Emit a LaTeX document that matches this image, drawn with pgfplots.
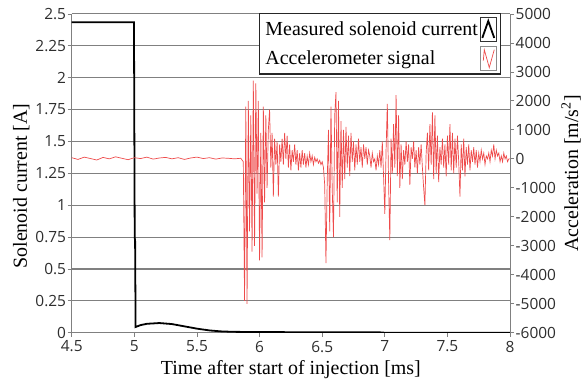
\documentclass[border=0pt]{standalone}
\usepackage{pgfplots}
\pgfplotsset{compat=1.18}
\usepackage{fontspec}
\setmainfont{Liberation Serif}
\newfontfamily\tickfont{Open Sans}
\definecolor{acc}{HTML}{EE4B4B}
\definecolor{gridc}{HTML}{808080}
\definecolor{tickc}{HTML}{2E2E2E}

\pgfplotstableread{
t a
4.50 40
4.55 -20
4.60 60
4.65 10
4.70 -40
4.75 50
4.80 0
4.85 70
4.90 20
4.95 -30
5.00 40
5.05 10
5.10 60
5.15 -10
5.20 30
5.25 50
5.30 0
5.35 40
5.40 -20
5.45 30
5.50 60
5.55 10
5.60 40
5.65 -10
5.70 30
5.75 20
5.80 0
5.85 20
5.87 -100
5.88 -4900
5.89 1800
5.90 -5000
5.91 2000
5.92 -2500
5.93 1500
5.94 -3200
5.95 2700
5.96 -3000
5.97 2600
5.98 -1200
5.99 2000
6.00 -3500
6.01 900
6.02 -3400
6.03 1800
6.04 -1500
6.05 1500
6.06 -1000
6.07 1000
6.08 1700
6.09 -300
6.10 900
6.11 -1300
6.12 700
6.13 -200
6.14 600
6.15 -1300
6.16 500
6.17 -100
6.18 700
6.19 -200
6.20 900
6.21 0
6.22 800
6.23 -300
6.24 500
6.25 -400
6.26 300
6.27 -100
6.28 500
6.29 -200
6.30 300
6.31 -400
6.32 200
6.33 -300
6.34 300
6.35 -200
6.36 200
6.37 -300
6.38 100
6.39 -200
6.40 200
6.41 -100
6.42 100
6.43 -200
6.44 50
6.45 -100
6.46 0
6.47 -150
6.48 -50
6.49 -200
6.50 -100
6.51 -300
6.52 -900
6.53 -3600
6.54 -800
6.55 1000
6.56 -2500
6.57 1800
6.58 -1000
6.59 -2700
6.60 1500
6.61 2300
6.62 -1500
6.63 2000
6.64 -2000
6.65 1300
6.66 -1000
6.67 1000
6.68 -700
6.69 1100
6.70 -300
6.71 800
6.72 -600
6.73 900
6.74 -100
6.75 600
6.76 -400
6.77 500
6.78 -200
6.79 700
6.80 -100
6.81 400
6.82 -300
6.83 500
6.84 0
6.85 400
6.86 -200
6.87 300
6.88 100
6.89 -300
6.90 200
6.91 -100
6.92 0
6.93 -400
6.94 100
6.95 -200
6.96 300
6.97 -300
6.98 600
6.99 -600
7.00 -1900
7.01 300
7.02 1900
7.03 -800
7.04 -2800
7.05 700
7.06 -500
7.07 1200
7.08 -300
7.09 2200
7.10 -600
7.11 1500
7.12 -1000
7.13 500
7.14 -700
7.15 300
7.16 -200
7.17 600
7.18 -100
7.19 500
7.20 -900
7.21 400
7.22 0
7.23 600
7.24 -300
7.25 300
7.26 -500
7.27 400
7.28 -200
7.29 500
7.30 -300
7.31 -1000
7.32 -1600
7.33 200
7.34 900
7.35 -400
7.36 1200
7.37 -200
7.38 1600
7.39 -700
7.40 1500
7.41 -500
7.42 800
7.43 -800
7.44 400
7.45 -200
7.46 700
7.47 -300
7.48 500
7.49 -600
7.50 800
7.51 -200
7.52 1200
7.53 -400
7.54 900
7.55 -500
7.56 700
7.57 -300
7.58 800
7.59 -100
7.60 -1300
7.61 500
7.62 -400
7.63 700
7.64 -600
7.65 400
7.66 -200
7.67 500
7.68 -400
7.69 300
7.70 -100
7.71 400
7.72 -200
7.73 300
7.74 -300
7.75 200
7.76 -100
7.77 300
7.78 0
7.79 200
7.80 -200
7.81 100
7.82 0
7.83 200
7.84 -100
7.85 300
7.86 100
7.87 500
7.88 0
7.89 300
7.90 100
7.91 200
7.92 -100
7.93 100
7.94 -100
7.95 200
7.96 0
7.97 100
7.98 -100
7.99 0
8.00 0
}\acctable

\pgfplotstableread{
t i
4.50 2.435
4.80 2.435
4.997 2.435
5.003 0.74
5.006 0.73
5.010 0.045
5.050 0.060
5.100 0.070
5.200 0.076
5.300 0.068
5.400 0.050
5.500 0.032
5.600 0.018
5.700 0.010
5.800 0.007
6.000 0.005
6.500 0.004
6.950 0.004
7.000 0.000
8.000 0.000
}\curtable

\begin{document}
\begin{tikzpicture}
\pgfplotsset{
  common/.style={
    width=440pt, height=320pt, scale only axis,
    xmin=4.5, xmax=8,
    tick label style={font=\tickfont\fontsize{15.5}{17}\selectfont, text=tickc, inner sep=1.5pt},
    label style={font=\fontsize{20}{23}\selectfont},
    /pgf/number format/assume math mode=true,
    /pgf/number format/1000 sep={},
    tick align=outside,
    major tick length=4pt,
    every tick/.style={gridc, line width=0.8pt},
    axis line style={gridc, line width=1.1pt},
  }
}
\begin{axis}[common, name=main,
  axis y line*=left, axis x line*=bottom,
  ymin=0, ymax=2.5,
  ytick={0,0.25,0.5,0.75,1,1.25,1.5,1.75,2,2.25,2.5},
  yticklabels={0,0.25,0.5,0.75,1,1.25,1.5,1.75,2,2.25,2.5},
  xtick={4.5,5,5.5,6,6.5,7,7.5,8},
  xticklabels={4.5,5,5.5,6,6.5,7,7.5,8},
  xticklabel style={yshift=-2.5pt},
  ymajorgrids,
  major grid style={gridc, line width=1.1pt},
  xlabel={Time after start of injection [ms]},
  ylabel={Solenoid current [A]},
  xlabel style={at={(axis description cs:0.5,-0.115)}, anchor=center},
  ylabel style={at={(axis description cs:-0.115,0.46)}, anchor=center},
]
\addplot[black, line width=1.8pt] table[x=t, y=i] {\curtable};
\end{axis}
\begin{axis}[common,
  axis y line*=right, axis x line=none,
  ymin=-6000, ymax=5000,
  ytick={-6000,-5000,-4000,-3000,-2000,-1000,0,1000,2000,3000,4000,5000},
  ylabel={Acceleration [m/s\textsuperscript{2}]},
  ylabel style={at={(axis description cs:1.139,0.5)}, anchor=center},
  legend plot pos=right,
  legend cell align=left,
  legend style={at={(axis description cs:0.98,1.003)}, anchor=north east,
    draw=black!85, line width=1.3pt, font=\fontsize{20}{23}\selectfont,
    inner xsep=4pt, inner ysep=3pt, row sep=5pt, fill=white},
]
\addlegendimage{legend image code/.code={
  \draw[black!80, line width=0.8pt] (0pt,-12pt) rectangle (16pt,12pt);
  \draw[black, line width=1.8pt] (2pt,-9pt) -- (8pt,8pt) -- (14pt,-9pt);}}
\addlegendentry{Measured solenoid current}
\addplot[acc, line width=0.7pt,
  legend image code/.code={
  \draw[black!45, line width=0.8pt] (0pt,-12pt) rectangle (16pt,12pt);
  \draw[acc, line width=0.7pt] (3pt,-2pt) -- (4pt,9pt) -- (9pt,-9pt) -- (14pt,9pt);}]
  table[x=t, y=a] {\acctable};
\addlegendentry{Accelerometer signal}
\end{axis}
\path (main.south west) ++(-72pt,-55pt);
\path (main.north east) ++(72pt,14pt);
\end{tikzpicture}
\end{document}
